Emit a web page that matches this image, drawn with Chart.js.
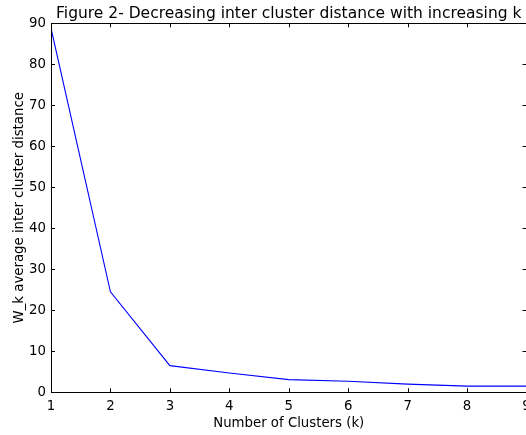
<!DOCTYPE html>
<html>
<head>
<meta charset="utf-8">
<script src="https://cdn.jsdelivr.net/npm/chart.js@4/dist/chart.umd.min.js"></script>
<style>
  html, body { margin: 0; padding: 0; background: #fff; overflow: hidden; }
  #wrap { width: 600px; height: 435px; }
</style>
</head>
<body>
<div id="wrap"><canvas id="elbowChart" width="600" height="435"></canvas></div>
<script>
// elbow curve: average inter cluster distance for k clusters
const clusters = [1, 2, 3, 4, 5, 6, 7, 8, 9];
const avgDistance = [88.8, 24.5, 6.5, 4.7, 3.1, 2.7, 2.0, 1.5, 1.5];
const xTicks = [1, 2, 3, 4, 5, 6, 7, 8, 9];
const yTicks = [0, 10, 20, 30, 40, 50, 60, 70, 80, 90];

// matplotlib-like frame with inward ticks on all four sides
const frameTicks = {
    id: 'frameTicks',
    afterDraw(chart) {
        const c = chart.ctx;
        const a = chart.chartArea;
        const xs = chart.scales.x, ys = chart.scales.y;
        const len = 4;
        c.save();
        c.strokeStyle = '#000';
        c.lineWidth = 1;
        c.strokeRect(Math.round(a.left) + 0.5, Math.round(a.top) + 0.5,
            Math.round(a.right - a.left), Math.round(a.bottom - a.top));
        c.beginPath();
        xTicks.forEach(v => {
            const px = Math.round(xs.getPixelForValue(v)) + 0.5;
            c.moveTo(px, a.bottom); c.lineTo(px, a.bottom - len);
            c.moveTo(px, a.top); c.lineTo(px, a.top + len);
        });
        yTicks.forEach(v => {
            const py = Math.round(ys.getPixelForValue(v)) + 0.5;
            c.moveTo(a.left, py); c.lineTo(a.left + len, py);
            c.moveTo(a.right, py); c.lineTo(a.right - len, py);
        });
        c.stroke();
        c.restore();
    }
};

const font = { family: '"DejaVu Sans", sans-serif', size: 13.3 };

new Chart(document.getElementById('elbowChart').getContext('2d'), {
    type: 'line',
    data: {
        labels: clusters,
        datasets: [{
            data: clusters.map((k, i) => ({ x: k, y: avgDistance[i] })),
            borderColor: '#0000ff',
            borderWidth: 1.1,
            pointRadius: 0,
            tension: 0,
            fill: false
        }]
    },
    options: {
        responsive: false,
        animation: false,
        events: [],
        layout: { padding: { left: 0, right: 73.5, top: 0, bottom: 0 } },
        plugins: {
            legend: { display: false },
            tooltip: { enabled: false },
            title: {
                display: true,
                fullSize: false,
                text: 'Figure 2- Decreasing inter cluster distance with increasing k',
                color: '#000',
                font: { family: '"DejaVu Sans", sans-serif', size: 15.5, weight: 'normal', lineHeight: 1.2 },
                padding: { top: 4.7, bottom: 0 }
            }
        },
        scales: {
            x: {
                type: 'linear',
                min: 1,
                max: 9,
                afterBuildTicks: s => { s.ticks = xTicks.map(v => ({ value: v })); },
                afterFit: s => { s.height = 42.7; s.paddingLeft = 0; s.paddingRight = 0; },
                grid: { display: false, drawTicks: false },
                border: { display: false },
                ticks: { color: '#000', font, padding: 6, maxRotation: 0, autoSkip: false },
                title: {
                    display: true,
                    text: 'Number of Clusters (k)',
                    color: '#000',
                    font,
                    padding: { top: 3, bottom: 3 }
                }
            },
            y: {
                type: 'linear',
                min: 0,
                max: 90,
                afterBuildTicks: s => { s.ticks = yTicks.map(v => ({ value: v })); },
                afterFit: s => { s.width = 51; s.paddingTop = 0; s.paddingBottom = 0; },
                grid: { display: false, drawTicks: false },
                border: { display: false },
                ticks: { color: '#000', font, padding: 5 },
                title: {
                    display: true,
                    text: 'W_k average inter cluster distance',
                    color: '#000',
                    font,
                    padding: { top: 11.5, bottom: 11.5 }
                }
            }
        }
    },
    plugins: [frameTicks]
});
</script>
</body>
</html>
